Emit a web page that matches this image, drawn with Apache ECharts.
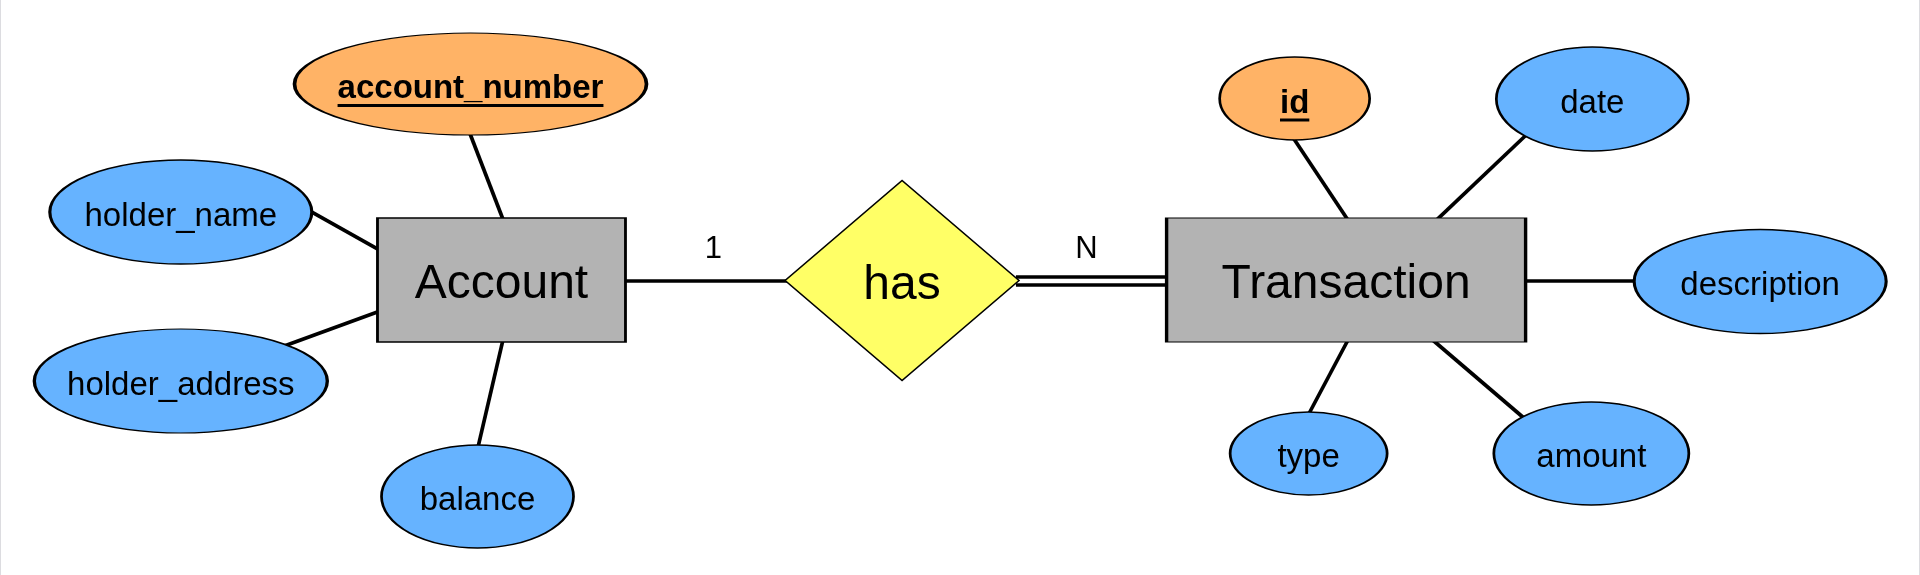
<!DOCTYPE html>
<html lang="en">

<head>
    <meta charset="UTF-8">
    <title>Account - Transaction ER</title>
    <script src="https://cdn.jsdelivr.net/npm/echarts@6/dist/echarts.min.js"></script>
    <style>
        html, body { margin: 0; padding: 0; background: #fff; }
        #wrap { width: 1920px; height: 575px; box-sizing: border-box; border-left: 1px solid #dcdce0; border-right: 1px solid #dcdce0; }
        #er { width: 100%; height: 100%; }
    </style>
</head>

<body>
    <div id="wrap"><div id="er"></div></div>
    <script>
        // nodes of the diagram (page pixels, y downwards)
        const nodeNames = ['Account', 'Transaction', 'has', 'account_number', 'holder_name', 'holder_address', 'balance', 'id', 'date', 'description', 'type', 'amount'];
        const nodeKinds = ['entity', 'entity', 'relation', 'key', 'attr', 'attr', 'attr', 'key', 'attr', 'attr', 'attr', 'attr'];
        const nodeX = [501, 1346.5, 902, 470, 180, 180, 477, 1295, 1593, 1761, 1309, 1592];
        const nodeY = [280, 280, 280.5, 84, 212, 381, 496.5, 98.5, 99, 281.5, 453.5, 453.5];
        const nodeW = [248, 359, 234, 352, 262, 293, 192, 150, 192, 252, 157, 195];
        const nodeH = [124, 124, 200, 102, 104, 104, 103, 83, 104, 104, 83, 103];

        // connectors: from / to names and their end points
        const edgeFrom = ['account_number', 'holder_name', 'holder_address', 'balance', 'Account', 'has', 'id', 'date', 'description', 'type', 'amount'];
        const edgeTo = ['Account', 'Account', 'Account', 'Account', 'has', 'Transaction', 'Transaction', 'Transaction', 'Transaction', 'Transaction', 'Transaction'];
        const edgeDouble = [false, false, false, false, false, true, false, false, false, false, false];
        const edgeStart = [[467.5, 128.5], [305, 208.6], [279.4, 347.4], [503.6, 335.2], [620, 281], [1016, 280.8], [1291, 134], [1433, 223.8], [1520, 281], [1350, 337], [1432, 339]];
        const edgeEnd = [[504.5, 224.5], [383, 252.4], [383.6, 309.6], [476.4, 451.8], [790, 281], [1172, 280.8], [1351, 224], [1531, 131], [1641, 281], [1307, 418], [1528, 421]];

        // cardinalities
        const cardText = ['1', 'N'];
        const cardX = [713, 1086.5];
        const cardY = [246, 246];

        const FONT = '"Liberation Sans", Arial, sans-serif';
        const fill = { entity: '#b3b3b3', relation: '#ffff66', key: '#ffb366', attr: '#66b3ff' };
        const ellipse = 'path://M0,50A50,50,0,1,1,100,50A50,50,0,1,1,0,50Z';

        function textWidth(str, font) {
            const ctx = document.createElement('canvas').getContext('2d');
            ctx.font = font;
            return ctx.measureText(str).width;
        }

        const nodeData = nodeNames.map(function(name, i) {
            const kind = nodeKinds[i];
            const big = kind === 'entity' || kind === 'relation';
            const item = {
                name: name,
                value: [nodeX[i], nodeY[i]],
                symbol: kind === 'entity' ? 'rect' : (kind === 'relation' ? 'diamond' : ellipse),
                symbolSize: [nodeW[i], nodeH[i]],
                itemStyle: {
                    color: fill[kind],
                    opacity: 1,
                    borderColor: '#000',
                    borderWidth: kind === 'relation' ? 1.5 : 2
                },
                label: {
                    show: true,
                    position: 'inside',
                    offset: [0, big ? 5 : 4.5],
                    color: '#000',
                    fontFamily: FONT,
                    fontSize: big ? 48 : 33,
                    formatter: '{b}'
                }
            };
            if (kind === 'key') {
                // primary key: bold and underlined
                const w = textWidth(name, 'bold 33px ' + FONT);
                item.label.formatter = '{k|' + name + '}\n{u|}';
                item.label.offset = [0, 6.5];
                item.label.rich = {
                    k: { fontFamily: FONT, fontSize: 33, fontWeight: 'bold', color: '#000', lineHeight: 30 },
                    u: { width: w, height: 3, lineHeight: 3, backgroundColor: '#000' }
                };
            }
            return item;
        });

        const edgeData = [];
        edgeFrom.forEach(function(f, i) {
            const a = edgeStart[i], b = edgeEnd[i];
            if (edgeDouble[i]) {
                // total participation -> two parallel lines
                edgeData.push({ coords: [[a[0], a[1] - 4.25], [b[0], b[1] - 4.25]], lineStyle: { width: 3.5 } });
                edgeData.push({ coords: [[a[0], a[1] + 4.25], [b[0], b[1] + 4.25]], lineStyle: { width: 3.5 } });
            } else {
                edgeData.push({ coords: [a, b] });
            }
        });

        const cardData = cardText.map(function(t, i) {
            return { name: t, value: [cardX[i], cardY[i]] };
        });

        const chart = echarts.init(document.getElementById('er'));
        chart.setOption({
            animation: false,
            backgroundColor: '#fff',
            grid: { left: 0, right: 0, top: 0, bottom: 0 },
            xAxis: { type: 'value', min: 0, max: 1920, show: false },
            yAxis: { type: 'value', min: 0, max: 575, inverse: true, show: false },
            series: [{
                type: 'lines',
                coordinateSystem: 'cartesian2d',
                z: 1,
                lineStyle: { color: '#000', width: 3.7, opacity: 1, curveness: 0 },
                data: edgeData
            }, {
                type: 'scatter',
                z: 3,
                symbolKeepAspect: false,
                data: nodeData
            }, {
                type: 'scatter',
                z: 4,
                symbolSize: 0,
                itemStyle: { opacity: 1 },
                label: {
                    show: true,
                    position: 'inside',
                    offset: [0, 3],
                    color: '#000',
                    fontFamily: FONT,
                    fontSize: 31,
                    formatter: '{b}'
                },
                data: cardData
            }]
        });
    </script>
</body>

</html>
